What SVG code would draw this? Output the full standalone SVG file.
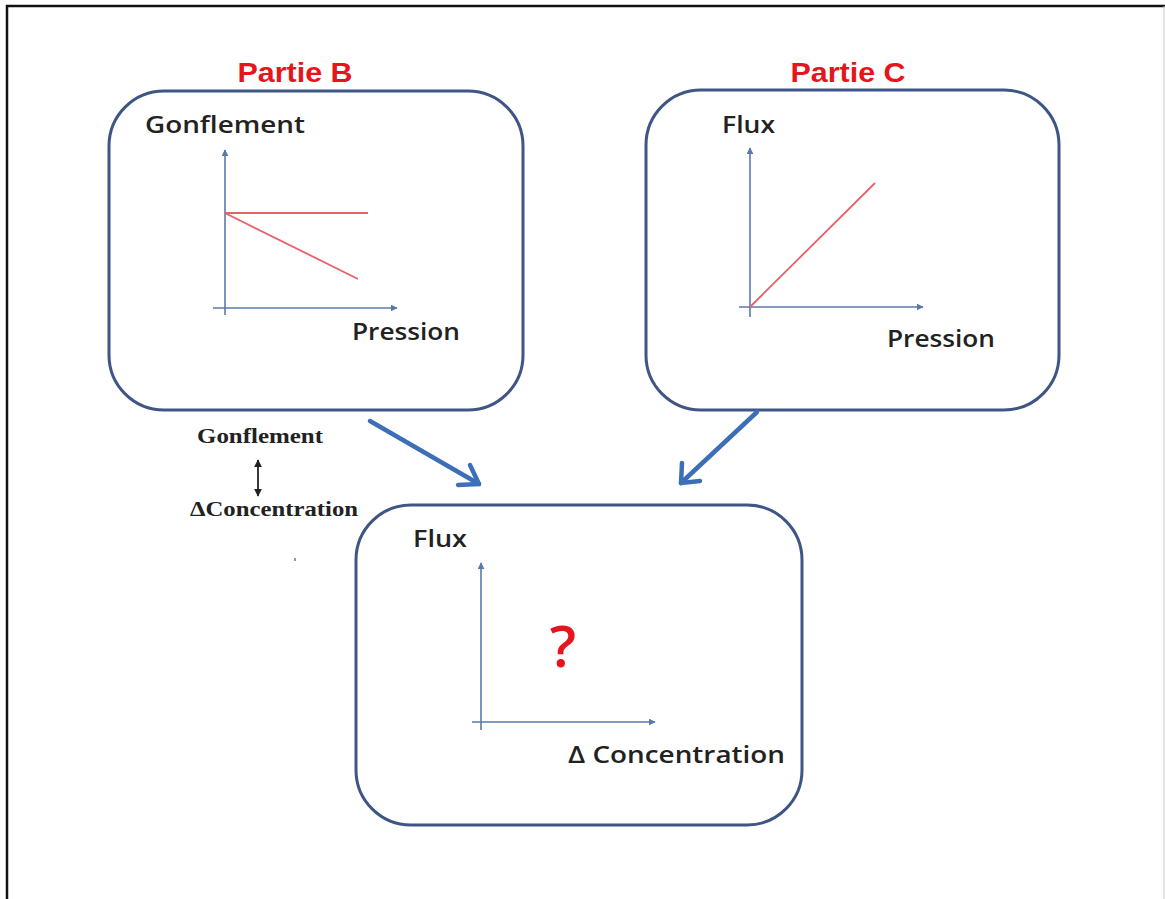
<svg xmlns="http://www.w3.org/2000/svg" width="1165" height="899" viewBox="0 0 1165 899">
<defs>
<style>
.box{fill:#fff;stroke:#3f5585;stroke-width:3}
.axis{stroke:#5a78ad;stroke-width:1.6;fill:none}
.curve{stroke:#e8606a;stroke-width:1.8;fill:none}
.lbl{font-family:"Open Sans","Liberation Sans",sans-serif;font-size:23px;fill:#222;font-weight:600}
.title{font-family:"Liberation Sans",Arial,sans-serif;font-size:28px;font-weight:bold;fill:#e8141c}
.serif{font-family:"Liberation Serif","Times New Roman",serif;font-size:21px;font-weight:bold;fill:#222}
.conn{stroke:#3d6fb8;stroke-width:4.5;fill:none;stroke-linecap:round;stroke-linejoin:round}
</style>
<marker id="ax" viewBox="0 0 10 10" refX="9" refY="5" markerWidth="7" markerHeight="7" markerUnits="userSpaceOnUse" orient="auto"><path d="M0,0 L10,5 L0,10 z" fill="#5a78ad"/></marker>
<marker id="blk" viewBox="0 0 10 10" refX="9" refY="5" markerWidth="8" markerHeight="8" markerUnits="userSpaceOnUse" orient="auto"><path d="M0,0 L10,5 L0,10 z" fill="#222"/></marker>
</defs>
<rect width="1165" height="899" fill="#fff"/>
<g id="frame">
<path d="M7,899 L7,6 L1165,6" fill="none" stroke="#111" stroke-width="2.5"/>
<line x1="1164" y1="6" x2="1164" y2="899" stroke="#ccc" stroke-width="1"/>
</g>
<g id="partieB">
<text class="title" x="295" y="82" text-anchor="middle" textLength="115" lengthAdjust="spacingAndGlyphs">Partie B</text>
<rect class="box" x="109" y="91" width="414" height="319" rx="55" ry="55"/>
<text class="lbl" x="145" y="133" textLength="160" lengthAdjust="spacingAndGlyphs">Gonflement</text>
<line class="axis" x1="225" y1="315" x2="225" y2="150" marker-end="url(#ax)"/>
<line class="axis" x1="213" y1="308" x2="397" y2="308" marker-end="url(#ax)"/>
<line class="curve" x1="225" y1="213" x2="368" y2="213"/>
<line class="curve" x1="225" y1="213" x2="358" y2="279"/>
<text class="lbl" x="352" y="340" textLength="108" lengthAdjust="spacingAndGlyphs">Pression</text>
</g>
<g id="partieC">
<text class="title" x="848" y="82" text-anchor="middle" textLength="115" lengthAdjust="spacingAndGlyphs">Partie C</text>
<rect class="box" x="646" y="90" width="413" height="320" rx="55" ry="55"/>
<text class="lbl" x="722" y="133" textLength="53" lengthAdjust="spacingAndGlyphs">Flux</text>
<line class="axis" x1="750" y1="317" x2="750" y2="148" marker-end="url(#ax)"/>
<line class="axis" x1="739" y1="307" x2="923" y2="307" marker-end="url(#ax)"/>
<line class="curve" x1="750" y1="307" x2="875" y2="183"/>
<text class="lbl" x="887" y="347" textLength="108" lengthAdjust="spacingAndGlyphs">Pression</text>
</g>
<g id="result">
<rect class="box" x="356" y="505" width="446" height="320" rx="55" ry="55"/>
<text class="lbl" x="413" y="547" textLength="54" lengthAdjust="spacingAndGlyphs">Flux</text>
<line class="axis" x1="481" y1="730" x2="481" y2="563" marker-end="url(#ax)"/>
<line class="axis" x1="472" y1="722" x2="655" y2="722" marker-end="url(#ax)"/>
<text x="563" y="667" text-anchor="middle" font-family="'Open Sans','Liberation Sans',sans-serif" font-size="58" font-weight="600" fill="#e8141c">?</text>
<text class="lbl" x="568" y="763" textLength="217" lengthAdjust="spacingAndGlyphs">Δ Concentration</text>
</g>
<g id="relation">
<text class="serif" x="197" y="443" textLength="126" lengthAdjust="spacingAndGlyphs">Gonflement</text>
<line x1="258" y1="470" x2="258" y2="460" stroke="#222" stroke-width="1.8" marker-end="url(#blk)"/>
<line x1="258" y1="470" x2="258" y2="496" stroke="#222" stroke-width="1.8" marker-end="url(#blk)"/>
<text class="serif" x="190" y="516" textLength="168" lengthAdjust="spacingAndGlyphs">ΔConcentration</text>
<rect x="294" y="558" width="2" height="3" fill="#999"/>
</g>
<g id="connectors">
<path class="conn" d="M370,421 L479,484"/>
<path class="conn" d="M458,485 L479,484 L470,465"/>
<path class="conn" d="M757,412 L681,483"/>
<path class="conn" d="M682,463 L681,483 L700,481"/>
</g>
</svg>
